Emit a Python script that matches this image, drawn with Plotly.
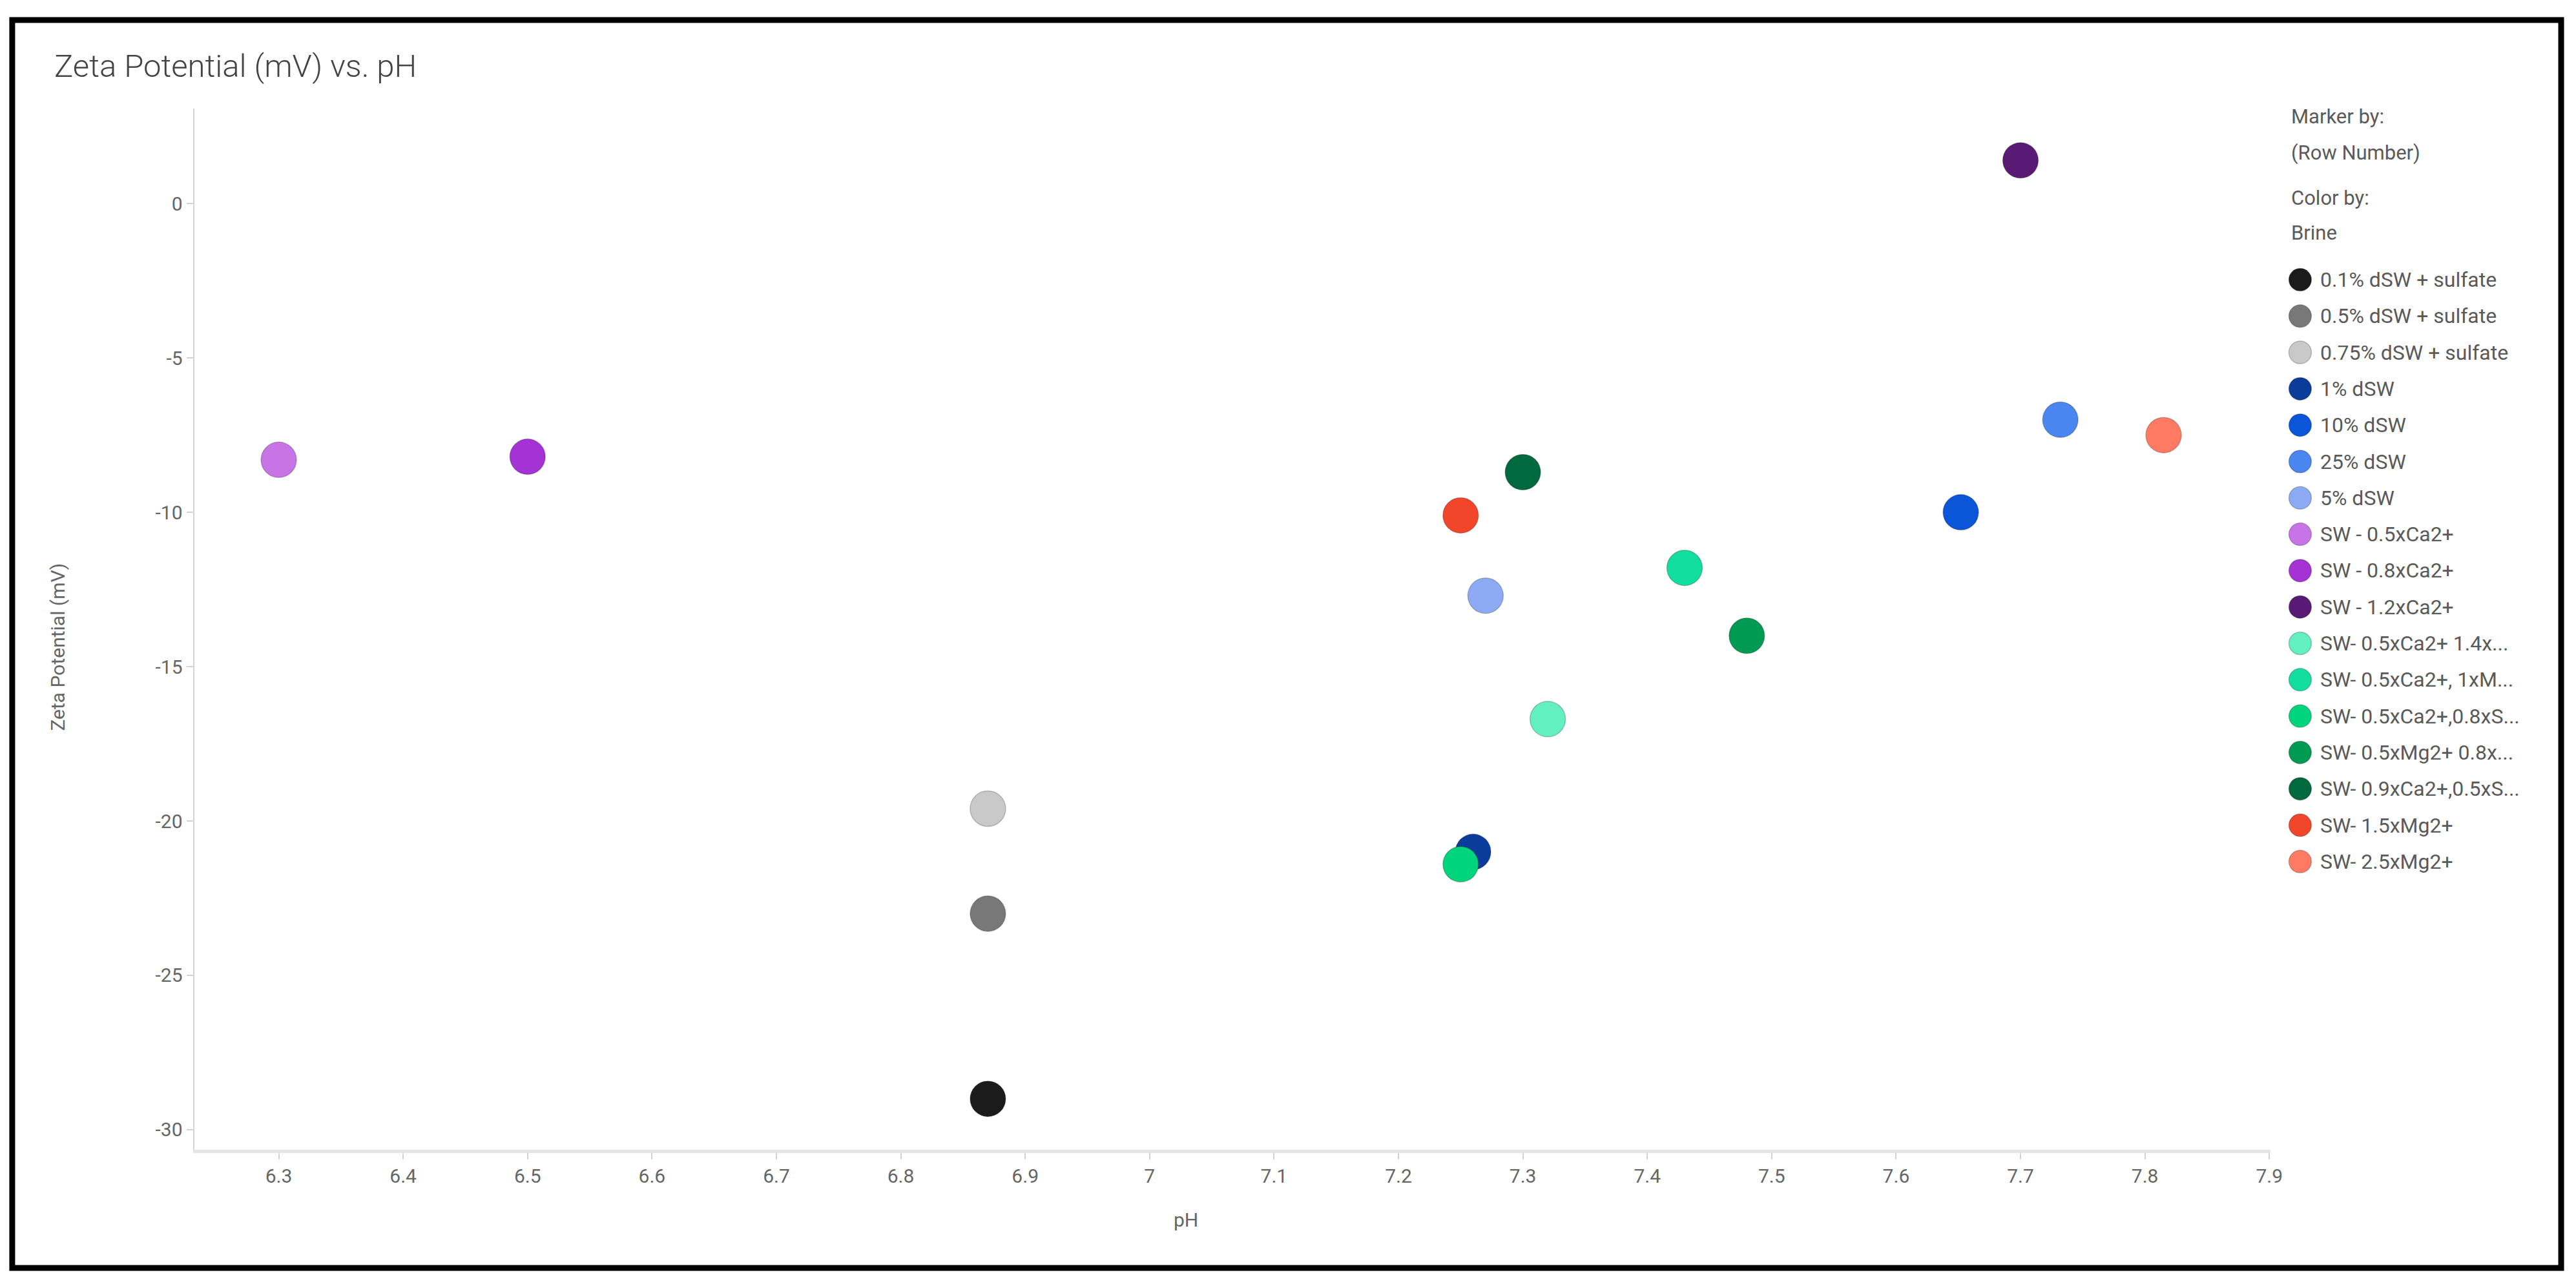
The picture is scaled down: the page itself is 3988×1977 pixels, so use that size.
import plotly.graph_objects as go

W, H = 3988, 1977

# ---------------- data ----------------
brines = [
    "0.1% dSW + sulfate", "0.5% dSW + sulfate", "0.75% dSW + sulfate",
    "1% dSW", "10% dSW", "25% dSW", "5% dSW",
    "SW - 0.5xCa2+", "SW - 0.8xCa2+", "SW - 1.2xCa2+",
    "SW- 0.5xCa2+ 1.4x...", "SW- 0.5xCa2+, 1xM...", "SW- 0.5xCa2+,0.8xS...",
    "SW- 0.5xMg2+ 0.8x...", "SW- 0.9xCa2+,0.5xS...", "SW- 1.5xMg2+", "SW- 2.5xMg2+",
]
ph = [6.87, 6.87, 6.87, 7.26, 7.652, 7.732, 7.27, 6.30, 6.50, 7.70,
      7.32, 7.43, 7.25, 7.48, 7.30, 7.25, 7.815]
zeta = [-29.0, -23.0, -19.6, -21.0, -10.0, -7.0, -12.7, -8.3, -8.2, 1.4,
        -16.7, -11.8, -21.4, -14.0, -8.7, -10.1, -7.5]
colors = ["#1b1b1b", "#787878", "#c9c9c9", "#0a3c9c", "#0b56d8", "#4a86ef", "#8dabf4",
          "#c674e6", "#a432d4", "#581a74", "#62f0c0", "#12dea0", "#00d47c",
          "#009a52", "#006a3e", "#f2462b", "#ff7a62"]

x_ticks = [6.3, 6.4, 6.5, 6.6, 6.7, 6.8, 6.9, 7.0, 7.1, 7.2, 7.3, 7.4, 7.5, 7.6, 7.7, 7.8, 7.9]
x_tick_labels = ["6.3", "6.4", "6.5", "6.6", "6.7", "6.8", "6.9", "7", "7.1", "7.2",
                 "7.3", "7.4", "7.5", "7.6", "7.7", "7.8", "7.9"]
y_ticks = [0, -5, -10, -15, -20, -25, -30]
y_tick_labels = ["0", "-5", "-10", "-15", "-20", "-25", "-30"]

# ---------------- layout constants (pixels) ----------------
PL, PR, PT, PB = 302, 3532, 168, 1780
FONT = "Roboto"

def px_x(p):
    return p / W

def px_y(p):
    return 1 - p / H

fig = go.Figure()

for name, x, y, c in zip(brines, ph, zeta, colors):
    fig.add_trace(go.Scatter(
        x=[x], y=[y], mode="markers", name=name, showlegend=False,
        marker=dict(size=55, color=c, line=dict(width=1.5, color="rgba(0,0,0,0.22)")),
        xaxis="x", yaxis="y",
    ))

# custom legend (larger symbols than the native legend allows)
LEG_X, LEG_Y0, LEG_DY = 3578, 433, 56.3
leg_y = [LEG_Y0 + i * LEG_DY for i in range(len(brines))]
fig.add_trace(go.Scatter(
    x=[LEG_X] * len(brines), y=leg_y, mode="markers", showlegend=False,
    marker=dict(size=35, color=colors, line=dict(width=1.5, color="rgba(0,0,0,0.22)")),
    xaxis="x2", yaxis="y2", hoverinfo="skip",
))

annotations = []
for name, yy in zip(brines, leg_y):
    annotations.append(dict(
        x=px_x(3607), y=px_y(yy), xref="paper", yref="paper", text=name,
        showarrow=False, xanchor="left", yanchor="middle",
        font=dict(family=FONT, size=32, color="#5a5a5a"),
    ))
for txt, yy in [("Marker by:", 180), ("(Row Number)", 237), ("Color by:", 307), ("Brine", 360)]:
    annotations.append(dict(
        x=px_x(3562), y=px_y(yy), xref="paper", yref="paper", text=txt,
        showarrow=False, xanchor="left", yanchor="middle",
        font=dict(family=FONT, size=31, color="#5a5a5a"),
    ))
# axis titles
annotations.append(dict(
    x=px_x(89), y=px_y(1002), xref="paper", yref="paper", text="Zeta Potential (mV)",
    showarrow=False, textangle=-90, xanchor="center", yanchor="middle",
    font=dict(family=FONT, size=30, color="#666666"),
))
annotations.append(dict(
    x=px_x(1845), y=px_y(1888), xref="paper", yref="paper", text="pH",
    showarrow=False, xanchor="center", yanchor="middle",
    font=dict(family=FONT, size=30, color="#666666"),
))

fig.update_layout(
    width=W, height=H,
    margin=dict(l=0, r=0, t=0, b=0, pad=0),
    paper_bgcolor="white", plot_bgcolor="white",
    showlegend=False,
    title=dict(
        text="Zeta Potential (mV) vs. pH", x=px_x(84), xanchor="left", xref="container",
        y=px_y(102), yanchor="middle", yref="container",
        font=dict(family=FONT, size=49, color="#444444", weight=300),
    ),
    xaxis=dict(
        domain=[px_x(PL), px_x(PR)], range=[6.232, 7.901], anchor="y",
        tickvals=x_ticks, ticktext=x_tick_labels,
        showgrid=False, zeroline=False,
        showline=True, linecolor="#e4e4e4", linewidth=5,
        ticks="outside", ticklen=10, tickwidth=2, tickcolor="#d2d2d2",
        tickfont=dict(family=FONT, size=30, color="#666666"),
    ),
    yaxis=dict(
        domain=[px_y(PB), px_y(PT)], range=[-30.65, 3.08], anchor="x",
        tickvals=y_ticks, ticktext=y_tick_labels,
        showgrid=False, zeroline=False,
        showline=True, linecolor="#d4d4d4", linewidth=2,
        ticks="outside", ticklen=10, tickwidth=2, tickcolor="#d2d2d2",
        tickfont=dict(family=FONT, size=30, color="#666666"),
    ),
    xaxis2=dict(domain=[px_x(3540), px_x(3980)], range=[3540, 3980], visible=False,
                anchor="y2", fixedrange=True),
    yaxis2=dict(domain=[0, 1], range=[H, 0], visible=False, anchor="x2", fixedrange=True),
    annotations=annotations,
    shapes=[dict(
        type="rect", xref="paper", yref="paper",
        x0=px_x(19), x1=px_x(3984), y0=px_y(1963), y1=px_y(31),
        line=dict(color="black", width=9), layer="above",
    )],
)

fig.write_html(
    "out.html",
    config={"displayModeBar": False},
    post_script="document.body.style.margin='0px';document.body.style.overflow='hidden';",
)
